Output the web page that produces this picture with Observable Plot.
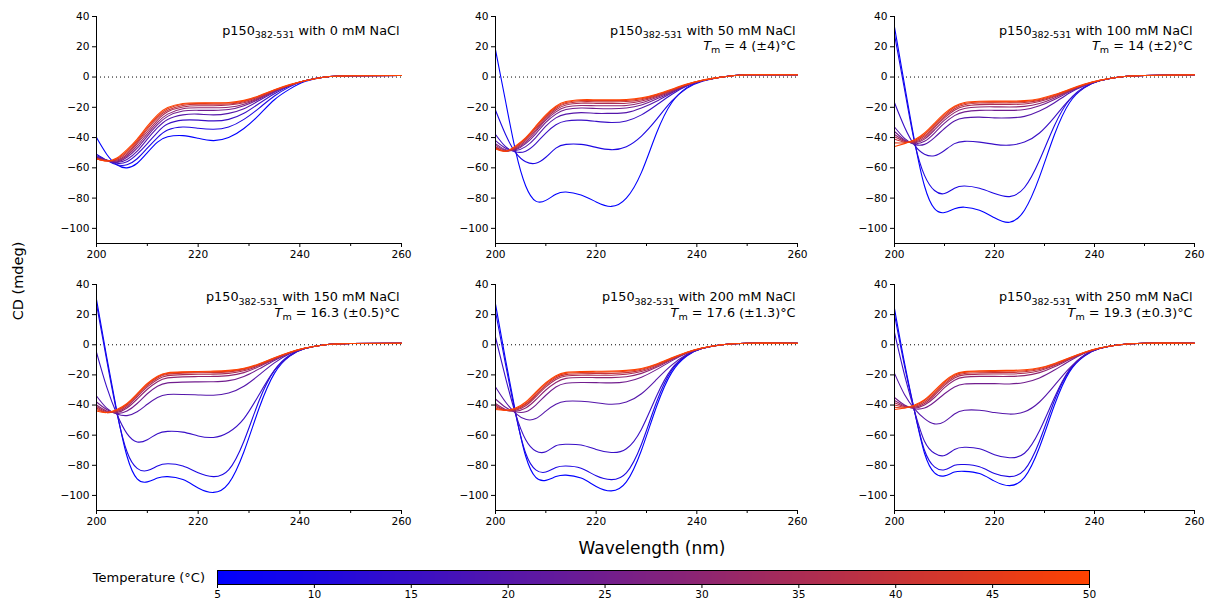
<!DOCTYPE html>
<html><head><meta charset="utf-8">
<script src="https://cdn.jsdelivr.net/npm/d3@7"></script>
<script src="https://cdn.jsdelivr.net/npm/@observablehq/plot@0.6"></script>
<style>
body{margin:0;background:#fff;}
#chart{position:relative;width:1205px;height:600px;font-family:"DejaVu Sans",sans-serif;color:#000;overflow:hidden;}
#chart svg{position:absolute;overflow:visible;}
.lbl{position:absolute;white-space:nowrap;line-height:1;}
</style></head><body><div id="chart"></div>
<script>
// ---- data ----
const wavelengths = [200,202,204,206,208,210,212,214,217,220,223,226,229,232,235,238,241,245,250,260];
const temperatures = [5,10,15,20,25,30,35,40,45,50];
const salts = [0,50,100,150,200,250];
const tmValues = [null,"4 (±4)","14 (±2)","16.3 (±0.5)","17.6 (±1.3)","19.3 (±0.3)"];
const yTicks = [-100,-80,-60,-40,-20,0,20,40];
const xTicks = [200,220,240,260];
const xMinorTicks = [210,230,250];
const legendTicks = [5,10,15,20,25,30,35,40,45,50];

const cd0 = [
 [-40,-51,-58,-60,-57,-50,-43,-39.5,-38.7,-40.5,-42,-40,-34,-25,-15,-8,-3,0,0.8,1],
 [-51,-55,-58,-58,-54,-47,-40,-35,-33,-33.8,-34.5,-33,-28,-20.5,-12.5,-6.5,-2.5,0,0.8,1],
 [-52,-55,-57,-56,-51,-44,-36.5,-31,-28.5,-28.5,-29,-28,-24,-17.5,-11,-6,-2.5,0,0.8,1],
 [-53,-55,-56.5,-54.5,-49,-41,-33.5,-28,-25,-24.5,-25,-24,-21,-15.5,-10,-5.5,-2.5,0,0.8,1],
 [-53,-55,-56,-53,-47,-39,-31.5,-26,-22.5,-22,-22,-21.5,-19,-14.5,-9.5,-5.5,-2.5,0,0.8,1],
 [-53.5,-55,-55.5,-52,-45.5,-37.5,-30,-24.5,-21,-20.3,-20.3,-20,-18,-14,-9,-5.5,-2.5,0,0.8,1],
 [-54,-55,-55,-51,-44,-36,-28.5,-23,-19.8,-19,-19,-18.5,-17,-13.5,-9,-5.5,-2.5,0,0.8,1],
 [-54,-55.5,-54.5,-50,-43,-34.5,-27,-22,-18.8,-18,-18,-17.8,-16.3,-13,-8.8,-5.3,-2.5,0,0.8,1],
 [-54,-55.5,-54,-49,-42,-33.5,-26,-21,-18,-17.5,-17.3,-17.2,-15.8,-12.6,-8.6,-5.2,-2.5,0,0.8,1],
 [-54,-55.5,-53.5,-48,-41,-32.5,-25,-20.2,-17.5,-17,-17,-16.8,-15.4,-12.3,-8.4,-5,-2.5,0,0.8,1]
];
const cd50 = [
 [18,-16,-49,-72,-82,-81.5,-77.5,-76,-78,-82.5,-85.5,-80,-63,-37,-17,-7,-2.5,0,1.5,1.5],
 [-22,-38,-50,-56,-57,-53,-47,-44.5,-44.5,-46.5,-48,-46,-39,-28,-16,-7.5,-3,0,1.5,1.5],
 [-38,-46,-49.5,-49,-44,-37,-31.5,-29,-28.5,-29.3,-30,-29,-25,-18.5,-11.5,-6,-2.5,0,1.5,1.5],
 [-42,-47,-48.5,-46,-40,-32.5,-27,-24.5,-23.5,-24,-24,-23.5,-20.5,-16,-10.5,-5.7,-2.5,0,1.5,1.5],
 [-44,-48,-48,-44,-37.5,-30,-24.5,-21.5,-20.5,-20.8,-21,-20.5,-18.5,-14.5,-10,-5.5,-2.5,0,1.5,1.5],
 [-45,-48.5,-47.5,-43,-36,-28.5,-23,-19.8,-18.8,-19,-19,-18.8,-17,-13.5,-9.5,-5.3,-2.4,0,1.5,1.5],
 [-46,-49,-47,-42,-35,-27.5,-21.8,-18.5,-17.3,-17.4,-17.5,-17.3,-15.8,-12.8,-9,-5.1,-2.3,0,1.5,1.5],
 [-46.5,-49,-46.5,-41,-34,-26.5,-20.8,-17.5,-16.3,-16.3,-16.4,-16.2,-15,-12.3,-8.7,-5,-2.3,0,1.5,1.5],
 [-47,-49,-46,-40.5,-33,-25.7,-20,-16.8,-15.5,-15.5,-15.5,-15.4,-14.3,-11.8,-8.4,-4.9,-2.2,0,1.5,1.5],
 [-47.5,-49,-45.5,-40,-32.5,-25,-19.3,-16.2,-15,-15,-15,-14.8,-13.8,-11.4,-8.1,-4.7,-2.1,0,1.5,1.5]
];
const cd100 = [
 [33,-5,-42,-72,-87,-89.5,-87,-86,-88,-93,-96,-88,-66,-38,-17,-7,-2.5,0,1,1.5],
 [28,-8,-43,-65,-75,-77,-73.5,-72,-73.5,-77,-79,-73,-55,-32,-15,-6.5,-2.5,0,1,1.5],
 [-17,-33,-45,-51,-52,-48.5,-44,-42.5,-43,-44.5,-45,-43,-37,-26.5,-15,-7,-2.5,0,1,1.5],
 [-33,-40.5,-44.5,-44.5,-40,-34,-29,-27,-26.5,-27,-27,-26,-22.5,-17,-10.5,-5.8,-2.5,0,1,1.5],
 [-36,-41.5,-44,-42.5,-37,-30.5,-25.5,-23,-22,-22,-22,-21.5,-19,-14.8,-9.8,-5.5,-2.5,0,1,1.5],
 [-38,-42,-43.5,-41,-35,-28.5,-23.5,-20.8,-19.8,-19.7,-19.8,-19.4,-17.5,-13.8,-9.3,-5.3,-2.4,0,1,1.5],
 [-39.5,-42.5,-43,-40,-33.5,-27,-22,-19.3,-18.2,-18.1,-18.1,-17.8,-16.2,-13,-9,-5.1,-2.3,0,1,1.5],
 [-41,-43,-42.5,-39,-32.5,-26,-21,-18.3,-17.2,-17.1,-17.1,-16.8,-15.4,-12.5,-8.7,-5,-2.3,0,1,1.5],
 [-43.5,-43.5,-42,-38,-31.5,-25,-20,-17.5,-16.5,-16.4,-16.4,-16.1,-14.8,-12,-8.4,-4.9,-2.2,0,1,1.5],
 [-46,-44,-41.5,-37,-30.5,-24,-19.3,-16.8,-16,-15.9,-15.9,-15.6,-14.3,-11.6,-8.1,-4.7,-2.1,0,1,1.5]
];
const cd150 = [
 [30,-8,-44,-74,-89,-91,-88.5,-87.5,-89.5,-95,-98,-92,-71,-42,-19,-7.5,-2.5,0,0.8,1],
 [27,-10,-45,-71,-82,-83.5,-80.5,-79,-80.5,-85,-87.5,-83,-64,-37,-17,-7,-2.5,0,0.8,1],
 [-5,-28,-46,-59,-64.5,-63,-59,-57.5,-58,-60.5,-61.5,-58,-49,-33,-17,-7.5,-2.5,0,0.8,1],
 [-34,-42,-46,-47,-44.5,-39.5,-35,-33,-33,-33.3,-33.5,-32,-27.5,-20,-12,-6,-2.5,0,0.8,1],
 [-38,-43,-45.5,-44,-39,-32.5,-27.5,-25.3,-24.8,-24.6,-24.5,-23.8,-21,-16,-10.5,-5.6,-2.4,0,0.8,1],
 [-40,-44,-45,-42,-36,-29.5,-24.5,-22,-21.3,-21.1,-21,-20.5,-18.5,-14.5,-9.8,-5.4,-2.4,0,0.8,1],
 [-41,-44.5,-44.5,-41,-34.5,-28,-23,-20.5,-19.8,-19.6,-19.5,-19,-17.3,-13.8,-9.4,-5.3,-2.3,0,0.8,1],
 [-42,-45,-44,-40,-33.5,-27,-22,-19.6,-18.8,-18.6,-18.5,-18,-16.5,-13.3,-9.1,-5.2,-2.3,0,0.8,1],
 [-43,-45,-43.5,-39.5,-33,-26.3,-21.4,-19,-18.3,-18.1,-18,-17.5,-16,-12.9,-8.8,-5.1,-2.2,0,0.8,1],
 [-44,-45,-43,-39,-32.5,-25.7,-20.9,-18.6,-18,-17.7,-17.5,-17,-15.6,-12.6,-8.6,-5,-2.2,0,0.8,1]
];
const cd200 = [
 [27,-10,-45,-74,-88,-90,-87.5,-86.5,-88.5,-94,-97,-91,-70,-41,-18.5,-7.5,-2.5,0,1,1],
 [22,-13,-46,-72,-83,-84.5,-81.5,-80.5,-82,-87,-89.5,-85,-66,-38,-17,-7,-2.5,0,1,1],
 [5,-22,-46,-63,-70.5,-71,-67,-66,-66.5,-69.5,-71.5,-69,-56,-34,-16,-7,-2.5,0,1,1],
 [-28,-38,-45.5,-49.5,-49,-44,-39.5,-37.5,-37.5,-38.5,-39.5,-38,-32.5,-23,-13.5,-6.5,-2.5,0,1,1],
 [-36,-41.5,-44.5,-44.5,-40,-33.5,-28,-25.5,-25,-25.1,-25.3,-24.5,-21.5,-16.5,-10.7,-5.7,-2.4,0,1,1],
 [-39,-43,-44,-42,-36.5,-30,-25,-22.3,-21.7,-21.8,-21.8,-21.2,-19,-15,-10,-5.5,-2.4,0,1,1],
 [-40,-43.5,-43.5,-40.5,-34.5,-28,-23,-20.7,-20.2,-20.2,-20.2,-19.6,-17.8,-14.2,-9.6,-5.3,-2.3,0,1,1],
 [-41,-43.5,-43,-39.5,-33.5,-27,-22,-19.8,-19.2,-19.1,-19.1,-18.5,-16.9,-13.6,-9.3,-5.2,-2.3,0,1,1],
 [-42,-43.5,-42.5,-39,-32.5,-26,-21.2,-19,-18.4,-18.2,-18.1,-17.6,-16.2,-13.1,-9,-5.1,-2.2,0,1,1],
 [-43,-43.5,-42,-38,-31.5,-25.2,-20.5,-18.3,-17.8,-17.6,-17.5,-17,-15.7,-12.7,-8.7,-5,-2.2,0,1,1]
];
const cd250 = [
 [24,-12,-44,-72,-85,-87,-84.5,-84,-85.5,-90.5,-93.5,-88,-68,-40,-18,-7.5,-2.5,0,1,1],
 [20,-14,-44,-70,-81,-83,-80,-79.5,-81,-85.5,-87.5,-83,-64,-37,-17,-7,-2.5,0,1,1],
 [8,-20,-44,-64,-72,-73.5,-69.5,-68,-69,-73,-75,-72,-57,-35,-16.5,-7,-2.5,0,1,1],
 [-19,-33,-42.5,-49,-52.5,-51,-46,-43.5,-43.5,-45,-46,-44.5,-38,-27,-15.5,-7,-2.5,0,1,1],
 [-35,-40,-42.5,-42,-38,-32.5,-28,-26,-25.8,-25.8,-26,-25,-22,-16.8,-10.8,-5.7,-2.4,0,1,1],
 [-37,-40.5,-42,-40,-35,-28.5,-23.5,-21.5,-21,-21,-21,-20.5,-18.5,-14.6,-9.8,-5.4,-2.4,0,1,1],
 [-38.5,-41,-41.5,-39,-33.5,-27,-22,-20,-19.5,-19.4,-19.4,-18.9,-17.2,-13.8,-9.4,-5.3,-2.3,0,1,1],
 [-40,-41.5,-41,-38,-32.5,-26,-21,-19.1,-18.6,-18.5,-18.4,-17.9,-16.4,-13.2,-9.1,-5.2,-2.3,0,1,1],
 [-41.5,-42,-40.5,-37,-31.5,-25,-20.2,-18.3,-17.9,-17.7,-17.6,-17.2,-15.8,-12.8,-8.8,-5.1,-2.2,0,1,1],
 [-43,-42,-40,-36.5,-30.5,-24.2,-19.6,-17.8,-17.3,-17.1,-17,-16.6,-15.3,-12.4,-8.6,-5,-2.2,0,1,1]
];
const panelData = [cd0, cd50, cd100, cd150, cd200, cd250];

// ---- rendering ----
const colorOpts = {type:"linear", domain:[5,50], range:["#0000ff","#ff4200"], interpolate:"rgb"};
const baseStyle = {fontFamily:"DejaVu Sans", fontSize:"10.6px", background:"transparent", overflow:"visible", color:"#000"};
const chart = document.getElementById("chart");
const colLeft = [51, 450, 849];
const colWidth = [360, 357, 355];
const rowTop = [6, 274];

function rich(svg){
  svg.querySelectorAll("text").forEach(t => {
    const s = t.textContent;
    if (!/[_*]/.test(s)) return;
    const parts = s.split(/(\*[^*]+\*|_\{[^}]+\})/).filter(p => p);
    t.textContent = "";
    let shifted = false;
    parts.forEach(p => {
      const ts = document.createElementNS("http://www.w3.org/2000/svg", "tspan");
      if (p.startsWith("_{")) {
        ts.textContent = p.slice(2, -1);
        ts.setAttribute("font-size", "9.5");
        ts.setAttribute("dy", "3.5");
        shifted = true;
      } else {
        if (p.startsWith("*")) { ts.textContent = p.slice(1, -1); ts.setAttribute("font-style", "italic"); }
        else ts.textContent = p;
        if (shifted) { ts.setAttribute("dy", "-3.5"); shifted = false; }
      }
      t.appendChild(ts);
    });
  });
}

panelData.forEach((curves, k) => {
  const rows = [];
  curves.forEach((curve, i) => curve.forEach((v, j) => rows.push({w: wavelengths[j], cd: v, T: temperatures[i]})));
  const line1 = [`p150_{382-531} with ${salts[k]} mM NaCl`];
  const line2 = tmValues[k] ? [`*T*_{m} = ${tmValues[k]}°C`] : [];
  const row = Math.floor(k / 3), col = k % 3;
  const svg = Plot.plot({
    width: colWidth[col], height: row === 0 ? 259 : 258,
    marginLeft: 45, marginRight: 10, marginTop: 10, marginBottom: 22,
    style: baseStyle,
    x: {domain: [200, 260]},
    y: {domain: [-110, 40]},
    color: colorOpts,
    marks: [
      Plot.ruleY([0], {stroke: "#000", strokeDasharray: "1,3", strokeWidth: 1}),
      Plot.line(rows, {x: "w", y: "cd", z: "T", stroke: "T", curve: "natural", strokeWidth: 1.1}),
      Plot.axisY({ticks: yTicks, tickSize: 4, tickPadding: 3, label: null}),
      Plot.axisX({ticks: xTicks, tickSize: 4, tickPadding: 3, label: null}),
      Plot.axisX({ticks: xMinorTicks, tickSize: 3, tickFormat: () => "", label: null}),
      Plot.ruleX([200], {stroke: "#000"}),
      Plot.ruleY([-110], {stroke: "#000"}),
      Plot.text(line1, {text: d => d, frameAnchor: "top-right", textAnchor: "end", lineAnchor: "middle", dy: row === 0 ? 14 : 12.5, dx: -2, fontSize: 12.8}),
      Plot.text(line2, {text: d => d, frameAnchor: "top-right", textAnchor: "end", lineAnchor: "middle", dy: row === 0 ? 29 : 28, dx: -2, fontSize: 12.8})
    ]
  });
  rich(svg);
  svg.style.left = colLeft[col] + "px";
  svg.style.top = rowTop[row] + "px";
  chart.appendChild(svg);
});

// legend colour bar
const legendStep = 45 / 872;
const legendCells = d3.range(0, 872).map(i => 5 + i * legendStep);
const legend = Plot.plot({
  width: 892, height: 32, marginLeft: 10, marginRight: 10, marginTop: 1, marginBottom: 17,
  style: baseStyle,
  x: {domain: [5, 50]},
  y: {domain: [0, 1], axis: null},
  color: colorOpts,
  marks: [
    Plot.rect(legendCells, {x1: d => d, x2: d => d + legendStep * 1.6, y1: d => 0, y2: d => 1, fill: d => d + legendStep / 2, shapeRendering: "crispEdges"}),
    Plot.frame({stroke: "#000", strokeWidth: 1}),
    Plot.axisX({ticks: legendTicks, tickSize: 4, tickPadding: 2, label: null})
  ]
});
legend.style.left = "207px";
legend.style.top = "569px";
chart.appendChild(legend);

function addLabel(text, css){
  const d = document.createElement("div");
  d.className = "lbl";
  d.textContent = text;
  Object.assign(d.style, css);
  chart.appendChild(d);
}
addLabel("Temperature (°C)", {right: (1205 - 205) + "px", top: "577px", transform: "translateY(-50%)", fontSize: "13px"});
addLabel("Wavelength (nm)", {left: "652px", top: "548px", transform: "translate(-50%,-50%)", fontSize: "17px"});
addLabel("CD (mdeg)", {left: "18px", top: "281px", transform: "translate(-50%,-50%) rotate(-90deg)", fontSize: "14.5px"});
</script></body></html>
